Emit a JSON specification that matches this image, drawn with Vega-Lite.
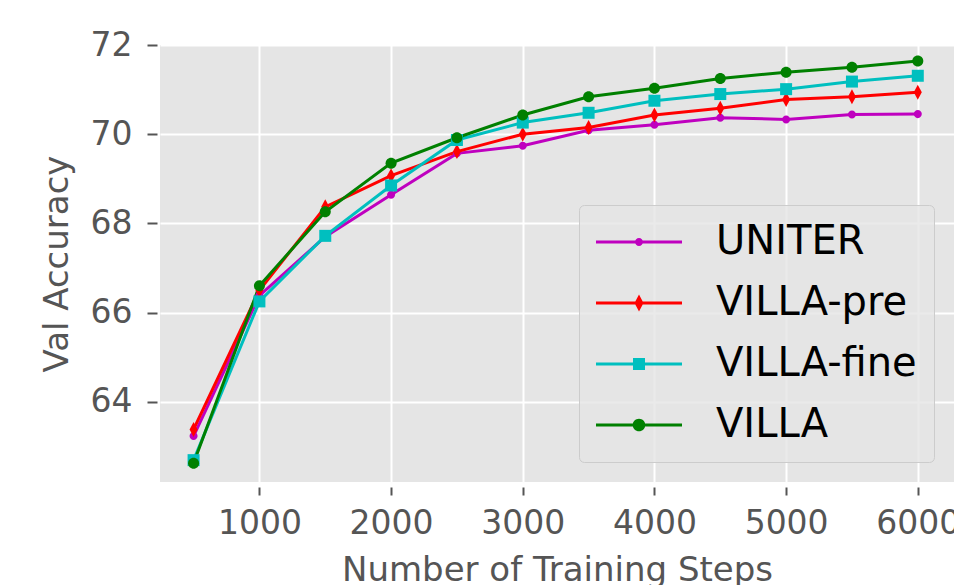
{
  "$schema": "https://vega.github.io/schema/vega-lite/v6.json",
  "width": 794,
  "height": 437,
  "autosize": {"type": "none"},
  "padding": {"left": 160, "top": 45, "right": 0, "bottom": 103},
  "background": "white",
  "config": {
    "font": "DejaVu Sans",
    "view": {"fill": "#E5E5E5", "stroke": null}
  },
  "data": {
    "values": [
      {"step": 500, "series": "UNITER", "acc": 63.23},
      {"step": 1000, "series": "UNITER", "acc": 66.38},
      {"step": 1500, "series": "UNITER", "acc": 67.70},
      {"step": 2000, "series": "UNITER", "acc": 68.64},
      {"step": 2500, "series": "UNITER", "acc": 69.57},
      {"step": 3000, "series": "UNITER", "acc": 69.74},
      {"step": 3500, "series": "UNITER", "acc": 70.09},
      {"step": 4000, "series": "UNITER", "acc": 70.21},
      {"step": 4500, "series": "UNITER", "acc": 70.37},
      {"step": 5000, "series": "UNITER", "acc": 70.33},
      {"step": 5500, "series": "UNITER", "acc": 70.44},
      {"step": 6000, "series": "UNITER", "acc": 70.45},
      {"step": 500, "series": "VILLA-pre", "acc": 63.38},
      {"step": 1000, "series": "VILLA-pre", "acc": 66.50},
      {"step": 1500, "series": "VILLA-pre", "acc": 68.37},
      {"step": 2000, "series": "VILLA-pre", "acc": 69.07},
      {"step": 2500, "series": "VILLA-pre", "acc": 69.61},
      {"step": 3000, "series": "VILLA-pre", "acc": 70.00},
      {"step": 3500, "series": "VILLA-pre", "acc": 70.15},
      {"step": 4000, "series": "VILLA-pre", "acc": 70.43},
      {"step": 4500, "series": "VILLA-pre", "acc": 70.58},
      {"step": 5000, "series": "VILLA-pre", "acc": 70.78},
      {"step": 5500, "series": "VILLA-pre", "acc": 70.84},
      {"step": 6000, "series": "VILLA-pre", "acc": 70.94},
      {"step": 500, "series": "VILLA-fine", "acc": 62.69},
      {"step": 1000, "series": "VILLA-fine", "acc": 66.25},
      {"step": 1500, "series": "VILLA-fine", "acc": 67.72},
      {"step": 2000, "series": "VILLA-fine", "acc": 68.85},
      {"step": 2500, "series": "VILLA-fine", "acc": 69.87},
      {"step": 3000, "series": "VILLA-fine", "acc": 70.26},
      {"step": 3500, "series": "VILLA-fine", "acc": 70.48},
      {"step": 4000, "series": "VILLA-fine", "acc": 70.75},
      {"step": 4500, "series": "VILLA-fine", "acc": 70.90},
      {"step": 5000, "series": "VILLA-fine", "acc": 71.01},
      {"step": 5500, "series": "VILLA-fine", "acc": 71.18},
      {"step": 6000, "series": "VILLA-fine", "acc": 71.31},
      {"step": 500, "series": "VILLA", "acc": 62.62},
      {"step": 1000, "series": "VILLA", "acc": 66.60},
      {"step": 1500, "series": "VILLA", "acc": 68.26},
      {"step": 2000, "series": "VILLA", "acc": 69.35},
      {"step": 2500, "series": "VILLA", "acc": 69.92},
      {"step": 3000, "series": "VILLA", "acc": 70.43},
      {"step": 3500, "series": "VILLA", "acc": 70.84},
      {"step": 4000, "series": "VILLA", "acc": 71.03},
      {"step": 4500, "series": "VILLA", "acc": 71.25},
      {"step": 5000, "series": "VILLA", "acc": 71.39},
      {"step": 5500, "series": "VILLA", "acc": 71.50},
      {"step": 6000, "series": "VILLA", "acc": 71.64}
    ]
  },
  "encoding": {
    "x": {
      "field": "step",
      "type": "quantitative",
      "scale": {"domain": [245, 6275], "nice": false, "zero": false},
      "axis": {
        "values": [1000, 2000, 3000, 4000, 5000, 6000],
        "format": "d",
        "title": "Number of Training Steps",
        "domain": false,
        "grid": true,
        "gridColor": "white",
        "gridWidth": 2,
        "ticks": true,
        "tickColor": "#555555",
        "tickSize": 8,
        "tickWidth": 2,
        "offset": 5,
        "labelFont": "DejaVu Sans",
        "labelFontSize": 33,
        "labelColor": "#555555",
        "labelPadding": 12,
        "labelFlush": false,
        "labelOverlap": false,
        "titleFont": "DejaVu Sans",
        "titleFontSize": 34,
        "titleFontWeight": "normal",
        "titleColor": "#555555",
        "titlePadding": 13
      }
    },
    "y": {
      "field": "acc",
      "type": "quantitative",
      "scale": {"domain": [62.2, 72.0], "nice": false, "zero": false},
      "axis": {
        "values": [64, 66, 68, 70, 72],
        "title": "Val Accuracy",
        "domain": false,
        "grid": true,
        "gridColor": "white",
        "gridWidth": 2,
        "tickColor": "#555555",
        "tickSize": 10,
        "tickWidth": 2,
        "offset": 3,
        "labelFont": "DejaVu Sans",
        "labelFontSize": 33,
        "labelColor": "#555555",
        "labelPadding": 15,
        "labelFlush": false,
        "labelOverlap": false,
        "titleFont": "DejaVu Sans",
        "titleFontSize": 34,
        "titleFontWeight": "normal",
        "titleColor": "#555555",
        "titlePadding": 16
      }
    },
    "color": {
      "field": "series",
      "type": "nominal",
      "scale": {
        "domain": ["UNITER", "VILLA-pre", "VILLA-fine", "VILLA"],
        "range": ["#BF00BF", "#FF0000", "#00BFBF", "#008000"]
      },
      "legend": {
        "title": null,
        "orient": "bottom-right",
        "offset": 20,
        "padding": 17,
        "fillColor": "rgba(229,229,229,0.8)",
        "strokeColor": "#CCCCCC",
        "cornerRadius": 5,
        "labelFont": "DejaVu Sans",
        "labelFontSize": 40,
        "labelColor": "black",
        "labelOffset": 57,
        "symbolSize": 1600,
        "symbolOffset": 23,
        "symbolStrokeWidth": 0,
        "symbolOpacity": 1,
        "rowPadding": 21,
        "labelLimit": 400,
        "encode": {
          "symbols": {
            "update": {
              "shape": {"signal": "datum.value === 'UNITER' ? 'M-2.15,-0.075H2.15V0.075H-2.15Z M0.2,0A0.2,0.2,0,1,1,-0.2,0A0.2,0.2,0,1,1,0.2,0Z' : datum.value === 'VILLA-pre' ? 'M-2.15,-0.075H2.15V0.075H-2.15Z M0,-0.425L0.225,0L0,0.425L-0.225,0Z' : datum.value === 'VILLA-fine' ? 'M-2.15,-0.075H2.15V0.075H-2.15Z M-0.3,-0.3H0.3V0.3H-0.3Z' : 'M-2.15,-0.075H2.15V0.075H-2.15Z M0.315,0A0.315,0.315,0,1,1,-0.315,0A0.315,0.315,0,1,1,0.315,0Z'"},
              "fill": {"scale": "color", "field": "value"},
              "strokeWidth": {"value": 0},
              "size": {"value": 1600},
              "opacity": {"value": 1}
            }
          }
        }
      }
    }
  },
  "layer": [
    {
      "mark": {"type": "line", "strokeWidth": 3},
      "encoding": {}
    },
    {
      "transform": [{"filter": "datum.series === 'UNITER'"}],
      "mark": {"type": "point", "filled": true, "opacity": 1, "size": 144, "strokeWidth": 0, "shape": "M0.67,0A0.67,0.67,0,1,1,-0.67,0A0.67,0.67,0,1,1,0.67,0Z"}
    },
    {
      "transform": [{"filter": "datum.series === 'VILLA-pre'"}],
      "mark": {"type": "point", "filled": true, "opacity": 1, "size": 144, "strokeWidth": 0, "shape": "M0,-1.25L0.67,0L0,1.25L-0.67,0Z"}
    },
    {
      "transform": [{"filter": "datum.series === 'VILLA-fine'"}],
      "mark": {"type": "point", "filled": true, "opacity": 1, "size": 144, "strokeWidth": 0, "shape": "M-1,-1H1V1H-1Z"}
    },
    {
      "transform": [{"filter": "datum.series === 'VILLA'"}],
      "mark": {"type": "point", "filled": true, "opacity": 1, "size": 144, "strokeWidth": 0, "shape": "M0.92,0A0.92,0.92,0,1,1,-0.92,0A0.92,0.92,0,1,1,0.92,0Z"}
    }
  ]
}
